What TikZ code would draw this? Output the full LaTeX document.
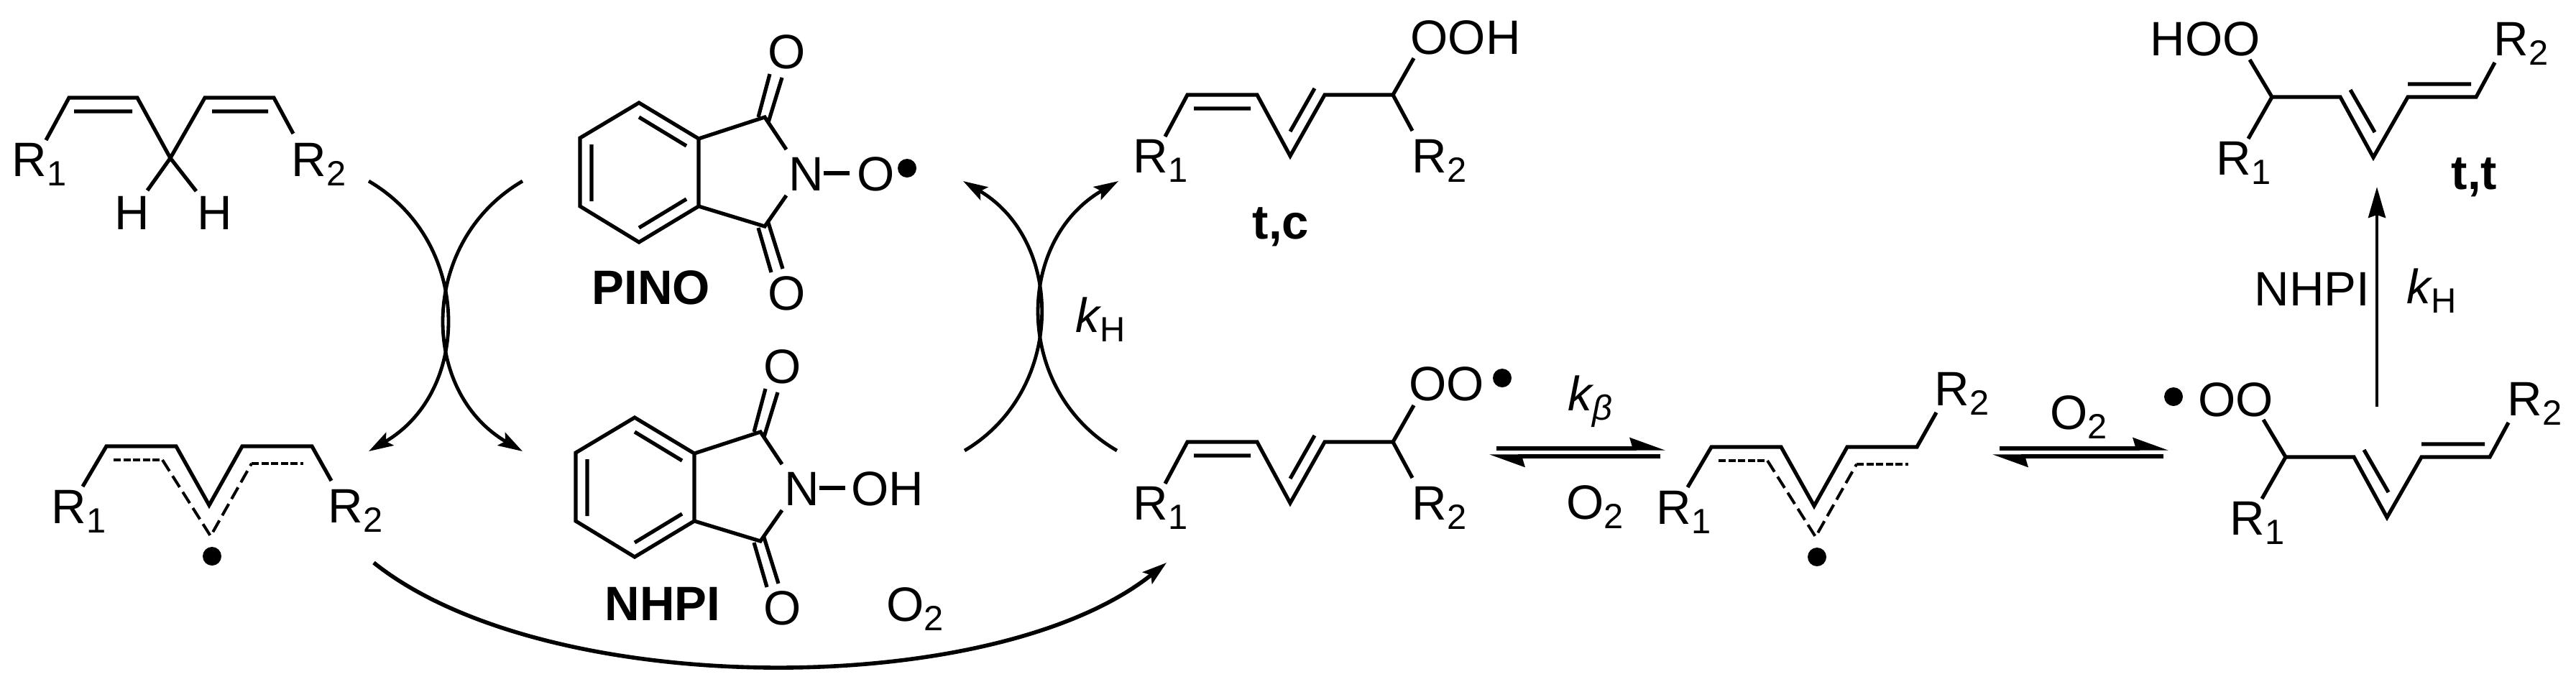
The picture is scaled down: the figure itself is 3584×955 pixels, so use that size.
\documentclass[tikz,border=0pt]{standalone}
\usepackage{fontspec}
\setmainfont{Liberation Sans}
\usetikzlibrary{arrows.meta}
\newcommand{\sbs}[1]{\raisebox{-3.4pt}{\fontsize{12.2}{12.2}\selectfont #1}}
\begin{document}
\begin{tikzpicture}[x=0.25pt,y=-0.25pt,line width=1.3pt,
    lbl/.style={inner sep=0pt,anchor=base west,font=\fontsize{16.8}{16.8}\selectfont},
    blbl/.style={lbl,font=\fontsize{16.8}{16.8}\selectfont\bfseries},
    curved/.style={line width=1.2pt,-{Stealth[length=8.5pt,width=5.2pt,inset=1.6pt]}},
    flatdash/.style={line width=1pt,dash pattern=on 2.5pt off 0.9pt},
    slantdash/.style={line width=1pt,dash pattern=on 4.6pt off 2pt},
    halfhead/.style={-{Stealth[harpoon,length=10.5pt,width=7.4pt,inset=1pt]}}]
  \useasboundingbox (0,0) rectangle (3584,955);
  \def\molring#1{
    \draw (889,143) -- (972,193) -- (972,287) -- (889,337) -- (807,287) -- (807,192) -- cycle;
    \draw (889,163) -- (955,203) (823,201) -- (823,280) (955,277) -- (889,317);
    \draw (972,193) -- (1064,163) -- (1094,208) (972,287) -- (1064,315) -- (1094,272);
    \draw (1055,163) -- (1071,103) (1069,170) -- (1088,108);
    \draw (1055,317) -- (1073,379) (1069,310) -- (1089,374);
    \draw (1146,241) -- (1182,241);
    \node[lbl] (#1ot) at (1066,95) {O};
    \node[lbl] (#1n) at (1095,265) {N};
    \node[lbl] (#1ob) at (1066,431) {O};
  }
  \def\moltc#1{
    \draw (1621,190) -- (1652,132) -- (1749,132) -- (1795,217) -- (1843,132) -- (1938,132) -- (1967,81);
    \draw (1938,132) -- (1965,182) (1661,151) -- (1740,151) (1795,183) -- (1829,123);
    \node[lbl] (#1ra) at (1574,240) {R\sbs{1}};
    \node[lbl] (#1rb) at (1962,240) {R\sbs{2}};
  }
  \def\moltt#1{
    \draw (3130,83) -- (3161,135) -- (3256,135) -- (3302,219) -- (3350,135) -- (3445,135) -- (3471,87);
    \draw (3161,135) -- (3128,193) (3270,125) -- (3304,184) (3350,117) -- (3438,117);
    \node[lbl] (#1ra) at (3081,243) {R\sbs{1}};
    \node[lbl] (#1rb) at (3467,77) {R\sbs{2}};
  }
  \def\molrad#1#2{
    \draw (115,677) -- (148,621) -- (245,621) -- (291,703) -- (337,621) -- (434,621) -- (461,#2);
    \draw[flatdash] (158,640) -- (226,640);
    \draw[slantdash] (226,640) -- (293,746) -- (350,645);
    \draw[flatdash] (350,645) -- (422,645);
    \fill (295,774) circle (13);
    \node[lbl] (#1ra) at (69,728) {R\sbs{1}};
  }

  \draw (64,195) -- (96,136) -- (191,136) -- (237,220) -- (285,136) -- (381,136) -- (408,186);
  \draw (103,155) -- (184,155) (295,155) -- (373,155) (205,265) -- (237,220) -- (273,266);
  \node[lbl] (dra) at (14,245) {R\sbs{1}};
  \node[lbl] (drb) at (403,245) {R\sbs{2}};
  \node[lbl] (dha) at (157,319) {H};
  \node[lbl] (dhb) at (272,319) {H};

  \molring{pino}
  \node[lbl] (pinoo) at (1190,265) {O};
  \fill (1262,234) circle (13);
  \node[blbl] (pino) at (821,423) {PINO};
  \begin{scope}[shift={(-6,438)}]
    \molring{nhpi}
    \node[lbl] (nhpioh) at (1188,265) {OH};
    \node[blbl] (nhpi) at (845,425) {NHPI};
  \end{scope}

  \moltc{tc}
  \node[lbl] (tcooh) at (1960,75) {OOH};
  \node[blbl] (tclbl) at (1740,332) {t,c};
  \begin{scope}[shift={(0,483)}]
    \moltc{per}
  \end{scope}
  \node[lbl] (peroo) at (1958,557) {OO};
  \fill (2090,526) circle (13);

  \molrad{rada}{669}
  \node[lbl] (radarb) at (454,727) {R\sbs{2}};
  \begin{scope}[shift={(2233,1)}]
    \molrad{radb}{573}
  \end{scope}
  \node[lbl] (radbrb) at (2689,564) {R\sbs{2}};

  \moltt{tt}
  \node[lbl] (tthoo) at (2989,77) {HOO};
  \node[blbl] (ttlbl) at (3408,263) {t,t};
  \begin{scope}[shift={(19,501)}]
    \moltt{pet}
  \end{scope}
  \node[lbl] (petoo) at (3056,579) {OO};
  \fill (3024,552) circle (13);

  \node[lbl] (kha) at (1494,462) {\itshape k\upshape\sbs{H}};
  \node[lbl] (kb) at (2179,571) {\itshape k\sbs{β}};
  \node[lbl] (oa) at (1231,864) {O\sbs{2}};
  \node[lbl] (ob) at (2177,722) {O\sbs{2}};
  \node[lbl] (oc) at (2850,597) {O\sbs{2}};
  \node[lbl] (nhpic) at (3134,425) {NHPI};
  \node[lbl] (khb) at (3346,422) {\itshape k\upshape\sbs{H}};

  \coordinate (aas) at (513,252);
  \coordinate (aae) at (513,628);
  \coordinate (abs) at (727,252);
  \coordinate (abe) at (727,628);
  \coordinate (acs) at (1342,627);
  \coordinate (ace) at (1340,252);
  \coordinate (ads) at (1554,627);
  \coordinate (ade) at (1556,252);
  \coordinate (aes) at (520,783);
  \coordinate (aee) at (1623,783);
  \coordinate (afs) at (3307,566);
  \coordinate (afe) at (3307,260);
  \draw[curved] (aas) .. controls (657,336) and (657,544) .. (aae);
  \draw[curved] (abs) .. controls (583,336) and (583,544) .. (abe);
  \draw[curved] (acs) .. controls (1482,544) and (1482,336) .. (ace);
  \draw[curved] (ads) .. controls (1411,544) and (1411,336) .. (ade);
  \draw[curved,line width=1.4pt] (aes) .. controls (760,975) and (1383,975) .. (aee);
  \draw[line width=1.1pt,-{Stealth[length=10.75pt,width=6pt,inset=1pt]}] (afs) -- (afe);

  \foreach \s in {0,700} {
    \begin{scope}[shift={(\s,0)}]
      \coordinate (eqa\s) at (2082,624);
      \coordinate (eqb\s) at (2317,624);
      \coordinate (eqc\s) at (2310,635);
      \coordinate (eqd\s) at (2072,635);
      \draw[halfhead] (eqa\s) -- (eqb\s);
      \draw[halfhead] (eqc\s) -- (eqd\s);
    \end{scope}
  }
\end{tikzpicture}
\end{document}
